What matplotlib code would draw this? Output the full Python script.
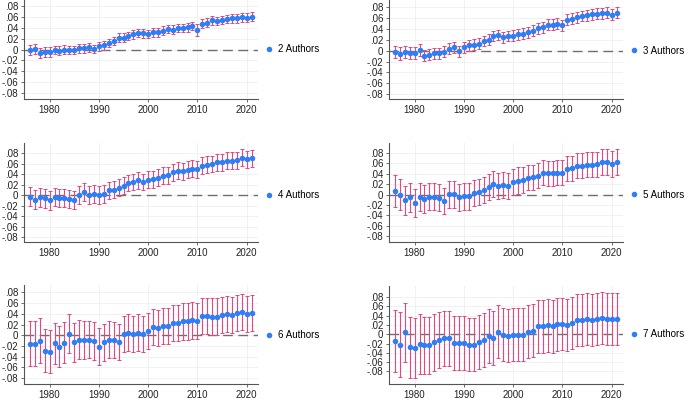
import numpy as np
import matplotlib
matplotlib.use("Agg")
import matplotlib.pyplot as plt

plt.rcParams['font.family'] = ['Liberation Sans', 'DejaVu Sans']

years = np.arange(1976, 2022)

coef2 = [-0.001, 0.001, -0.006, -0.005, -0.005, -0.001, -0.002, 0.000, -0.001, -0.001,
         0.002, 0.002, 0.004, 0.001, 0.006, 0.008, 0.012, 0.016, 0.022, 0.022,
         0.025, 0.028, 0.031, 0.030, 0.029, 0.032, 0.032, 0.035, 0.038, 0.037,
         0.040, 0.040, 0.041, 0.044, 0.036, 0.048, 0.050, 0.054, 0.053, 0.055,
         0.057, 0.058, 0.058, 0.060, 0.059, 0.061]
err2 = [0.009, 0.009, 0.009, 0.009, 0.009, 0.008, 0.008, 0.008, 0.008, 0.008,
        0.008, 0.008, 0.008, 0.008, 0.008, 0.008, 0.008, 0.008, 0.008, 0.008,
        0.008, 0.008, 0.008, 0.008, 0.008, 0.008, 0.008, 0.008, 0.008, 0.008,
        0.008, 0.008, 0.008, 0.008, 0.011, 0.008, 0.008, 0.008, 0.008, 0.008,
        0.008, 0.008, 0.008, 0.008, 0.008, 0.008]

coef3 = [-0.003, -0.006, -0.003, -0.004, -0.004, 0.001, -0.009, -0.007, -0.005, -0.005,
         -0.002, 0.004, 0.006, -0.001, 0.006, 0.010, 0.011, 0.013, 0.018, 0.020,
         0.027, 0.029, 0.025, 0.027, 0.028, 0.030, 0.031, 0.034, 0.037, 0.041,
         0.043, 0.048, 0.048, 0.050, 0.047, 0.057, 0.059, 0.062, 0.064, 0.065,
         0.067, 0.068, 0.069, 0.070, 0.066, 0.070]
err3 = [0.011, 0.012, 0.011, 0.011, 0.011, 0.011, 0.010, 0.010, 0.010, 0.010,
        0.010, 0.010, 0.010, 0.010, 0.010, 0.010, 0.010, 0.010, 0.010, 0.010,
        0.010, 0.010, 0.010, 0.010, 0.010, 0.010, 0.010, 0.010, 0.010, 0.010,
        0.010, 0.010, 0.010, 0.010, 0.010, 0.010, 0.010, 0.010, 0.010, 0.010,
        0.010, 0.010, 0.010, 0.010, 0.010, 0.010]

coef4 = [-0.003, -0.009, -0.004, -0.006, -0.010, -0.003, -0.005, -0.005, -0.008, -0.010,
         0.001, 0.006, 0.001, 0.003, 0.000, 0.002, 0.009, 0.010, 0.014, 0.018,
         0.023, 0.025, 0.028, 0.025, 0.029, 0.030, 0.033, 0.037, 0.038, 0.043,
         0.046, 0.045, 0.048, 0.050, 0.049, 0.056, 0.058, 0.059, 0.062, 0.062,
         0.065, 0.065, 0.066, 0.071, 0.068, 0.070]
err4 = [0.018, 0.018, 0.018, 0.018, 0.018, 0.017, 0.017, 0.017, 0.017, 0.017,
        0.017, 0.017, 0.017, 0.017, 0.017, 0.017, 0.016, 0.016, 0.016, 0.016,
        0.016, 0.016, 0.016, 0.016, 0.016, 0.016, 0.016, 0.016, 0.016, 0.016,
        0.016, 0.016, 0.016, 0.016, 0.016, 0.016, 0.016, 0.016, 0.016, 0.016,
        0.016, 0.016, 0.016, 0.016, 0.016, 0.016]

coef5 = [0.007, 0.000, -0.011, -0.005, -0.016, -0.004, -0.008, -0.004, -0.004, -0.006,
         -0.012, 0.001, 0.001, -0.005, -0.003, -0.003, 0.003, 0.005, 0.009, 0.015,
         0.020, 0.017, 0.019, 0.017, 0.025, 0.027, 0.028, 0.032, 0.033, 0.036,
         0.042, 0.041, 0.041, 0.042, 0.042, 0.050, 0.051, 0.055, 0.055, 0.057,
         0.057, 0.058, 0.062, 0.062, 0.059, 0.062]
err5 = [0.030, 0.029, 0.028, 0.028, 0.027, 0.027, 0.027, 0.026, 0.026, 0.026,
        0.025, 0.026, 0.026, 0.026, 0.026, 0.026, 0.025, 0.025, 0.025, 0.025,
        0.025, 0.025, 0.025, 0.025, 0.025, 0.025, 0.024, 0.024, 0.024, 0.024,
        0.024, 0.024, 0.024, 0.024, 0.024, 0.024, 0.024, 0.024, 0.024, 0.024,
        0.024, 0.024, 0.025, 0.025, 0.025, 0.025]

coef6 = [-0.016, -0.016, -0.010, -0.029, -0.031, -0.015, -0.021, -0.014, 0.003, -0.013,
         -0.008, -0.009, -0.008, -0.011, -0.021, -0.013, -0.008, -0.009, -0.013, 0.003,
         0.005, 0.003, 0.005, 0.003, 0.008, 0.015, 0.014, 0.017, 0.017, 0.023,
         0.023, 0.026, 0.026, 0.028, 0.027, 0.036, 0.036, 0.035, 0.035, 0.038,
         0.040, 0.038, 0.042, 0.044, 0.040, 0.042]
err6 = [0.042, 0.042, 0.042, 0.040, 0.040, 0.038, 0.038, 0.038, 0.037, 0.036,
        0.036, 0.036, 0.035, 0.035, 0.035, 0.035, 0.034, 0.034, 0.034, 0.034,
        0.034, 0.034, 0.034, 0.034, 0.034, 0.034, 0.034, 0.034, 0.034, 0.034,
        0.034, 0.034, 0.034, 0.034, 0.034, 0.034, 0.034, 0.034, 0.034, 0.034,
        0.034, 0.034, 0.034, 0.034, 0.034, 0.034]

coef7 = [-0.014, -0.022, 0.004, -0.028, -0.029, -0.021, -0.024, -0.024, -0.017, -0.012,
         -0.009, -0.009, -0.019, -0.019, -0.019, -0.022, -0.022, -0.017, -0.013, -0.004,
         -0.008, 0.006, -0.001, -0.003, -0.001, -0.001, -0.001, 0.006, 0.008, 0.017,
         0.017, 0.019, 0.017, 0.022, 0.022, 0.021, 0.025, 0.031, 0.031, 0.032,
         0.031, 0.032, 0.035, 0.032, 0.032, 0.032]
err7 = [0.067, 0.069, 0.064, 0.066, 0.065, 0.065, 0.062, 0.062, 0.061, 0.060,
        0.059, 0.060, 0.058, 0.058, 0.058, 0.058, 0.058, 0.058, 0.058, 0.058,
        0.058, 0.057, 0.057, 0.057, 0.057, 0.057, 0.057, 0.057, 0.057, 0.057,
        0.057, 0.057, 0.057, 0.057, 0.056, 0.056, 0.056, 0.056, 0.056, 0.056,
        0.056, 0.056, 0.056, 0.056, 0.056, 0.056]

labels = ["2 Authors", "3 Authors", "4 Authors", "5 Authors", "6 Authors", "7 Authors"]
ytick_vals = [-0.08, -0.06, -0.04, -0.02, 0, 0.02, 0.04, 0.06, 0.08]
ytick_labels = ["-.08", "-.06", "-.04", "-.02", "0", ".02", ".04", ".06", ".08"]
xtick_vals = [1980, 1990, 2000, 2010, 2020]

coefs = [coef2, coef3, coef4, coef5, coef6, coef7]
errs = [err2, err3, err4, err5, err6, err7]

W, H = 685, 401
fig = plt.figure(figsize=(W / 100, H / 100), dpi=100)

# pixel boxes: left, top, right, bottom
boxes = [(24, 0, 258, 99), (389, 0, 623, 99),
         (24, 143, 258, 242), (389, 143, 623, 242),
         (24, 285, 258, 384), (389, 286, 623, 384)]
ylims = [(-0.092, 0.092), (-0.089, 0.0935), (-0.089, 0.099),
         (-0.091, 0.099), (-0.091, 0.094), (-0.107, 0.104)]

blue = '#2f7ef5'
pink = '#e3487f'
spine_c = '#555555'

for i in range(6):
    l, t, r, b = boxes[i]
    ax = fig.add_axes([l / W, 1 - b / H, (r - l) / W, (b - t) / H])
    ax.set_xlim(1974.8, 2022.3)
    ax.set_ylim(*ylims[i])
    ax.set_yticks(ytick_vals)
    ax.set_yticklabels(ytick_labels)
    ax.set_xticks(xtick_vals)
    ax.grid(True, color='#efefef', linewidth=0.6)
    ax.set_axisbelow(True)
    for s in ['top', 'right']:
        ax.spines[s].set_visible(False)
    for s in ['left', 'bottom']:
        ax.spines[s].set_color(spine_c)
        ax.spines[s].set_linewidth(0.8)
    ax.tick_params(axis='both', labelsize=7, length=2.5, width=0.6,
                   color=spine_c, pad=1.5, labelcolor='#222222')
    ax.axhline(0, color='#6e6e6e', linewidth=1.0, dashes=(7, 4), zorder=1)
    ax.errorbar(years, coefs[i], yerr=errs[i], fmt='none', ecolor=pink,
                elinewidth=0.8, capsize=1.5, capthick=0.7, zorder=2)
    ax.plot(years, coefs[i], 'o', color=blue, markersize=4,
            markeredgewidth=0, label=labels[i], zorder=3)
    ax.legend(loc='center left', bbox_to_anchor=(1.0, 0),
              bbox_transform=ax.get_yaxis_transform(), frameon=False,
              fontsize=7, handlelength=0.6, handletextpad=0.7,
              borderaxespad=0.4, markerscale=1.0)

fig.savefig('out.png', dpi=100)
